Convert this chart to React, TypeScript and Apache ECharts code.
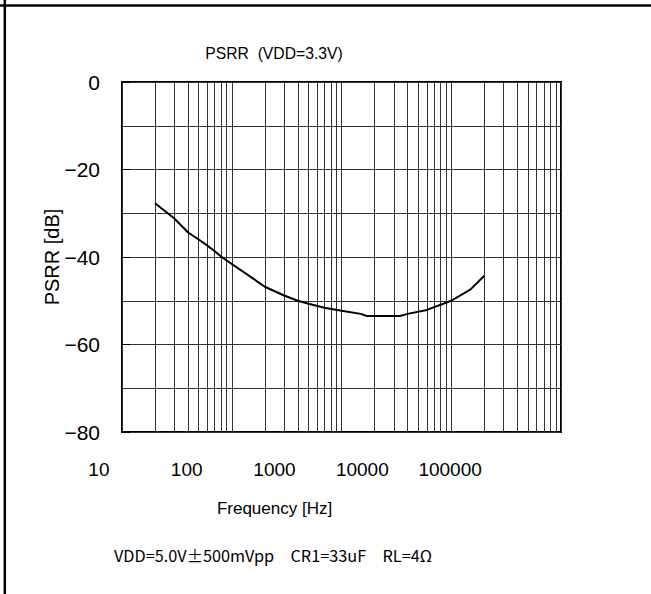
import { useEffect, useRef } from "react";
import * as echarts from "echarts";

const TITLE = "PSRR  (VDD=3.3V)";
const X_NAME = "Frequency [Hz]";
const Y_NAME = "PSRR [dB]";
const CONDITIONS = "VDD=5.0V\u00b1500mVpp\u3000CR1=33uF\u3000RL=4\u03a9";

const freqHz = [20, 30, 40, 50, 60, 70, 80, 100, 150, 200, 300, 400, 500, 700, 1000, 1500, 1700, 2000, 3000, 3400, 4000, 6000, 10000, 15000, 20000];
const psrrDb = [-27.7, -31.2, -34.4, -36.0, -37.4, -38.7, -39.9, -41.6, -44.6, -46.8, -48.8, -50.0, -50.7, -51.6, -52.3, -53.0, -53.5, -53.5, -53.5, -53.5, -53.0, -52.1, -50.0, -47.4, -44.3];

const xTickLabels = ["10", "100", "1000", "10000", "100000"];
const minorFreqs = [
  20, 30, 40, 50, 60, 70, 80, 90,
  200, 300, 400, 500, 600, 700, 800, 900,
  2000, 3000, 4000, 5000, 6000, 7000, 8000, 9000,
  20000, 30000, 40000, 50000, 60000, 70000, 80000, 90000,
];

const SANS = "'Liberation Sans', Arial, sans-serif";

export default function App() {
  const ref = useRef<HTMLDivElement>(null);
  useEffect(() => {
    if (!ref.current) return;
    const chart = echarts.init(ref.current, null, { renderer: "svg" });
    const gridColor = "#333";
    chart.setOption({
      animation: false,
      backgroundColor: "#fff",
      grid: [
        { left: 122, top: 82, width: 439, height: 350, show: true, borderColor: "#000", borderWidth: 2, backgroundColor: "transparent" },
        { left: 55, top: 82, width: 439, height: 350, show: false },
      ],
      xAxis: [
        {
          type: "log",
          gridIndex: 0,
          logBase: 10,
          min: 10,
          max: 100000,
          axisLine: { show: false },
          axisTick: { show: false },
          axisLabel: { show: false },
          splitLine: { show: true, lineStyle: { color: gridColor, width: 1 } },
        },
        {
          type: "category",
          gridIndex: 1,
          data: xTickLabels,
          boundaryGap: true,
          axisLine: { show: false },
          axisTick: { show: false },
          axisLabel: { interval: 0, margin: 28, fontFamily: SANS, fontSize: 19, color: "#000" },
          name: X_NAME,
          nameLocation: "middle",
          nameGap: 68,
          nameMoveOverlap: false,
          nameTextStyle: { fontFamily: SANS, fontSize: 17, color: "#000" },
        },
      ],
      yAxis: [
        {
          type: "value",
          gridIndex: 0,
          min: -80,
          max: 0,
          interval: 20,
          axisLine: { show: false },
          axisTick: { show: true, inside: true, length: 8, lineStyle: { color: "#000", width: 1 } },
          axisLabel: {
            margin: 22,
            fontFamily: SANS,
            fontSize: 21,
            color: "#000",
            formatter: (v: number) => (v === 0 ? "0" : "\u2212" + Math.abs(v)),
          },
          splitLine: { show: true, lineStyle: { color: gridColor, width: 1 } },
          minorTick: { show: false, splitNumber: 2 },
          minorSplitLine: { show: true, lineStyle: { color: gridColor, width: 1 } },
          name: Y_NAME,
          nameLocation: "middle",
          nameGap: 60,
          nameRotate: 90,
          nameMoveOverlap: false,
          nameTextStyle: { fontFamily: SANS, fontSize: 20, color: "#000" },
        },
        { type: "value", gridIndex: 1, show: false, min: -80, max: 0 },
      ],
      series: [
        {
          type: "line",
          xAxisIndex: 0,
          yAxisIndex: 0,
          data: freqHz.map((f, i) => [f, psrrDb[i]]),
          showSymbol: false,
          smooth: false,
          lineStyle: { color: "#000", width: 2 },
          z: 5,
          markLine: {
            silent: true,
            symbol: "none",
            label: { show: false },
            lineStyle: { color: gridColor, width: 1, type: "solid" },
            data: minorFreqs.map((f) => ({ xAxis: f })),
            z: 1,
          },
        },
      ],
      graphic: [
        { type: "line", shape: { x1: 0, y1: 5.5, x2: 651, y2: 5.5 }, style: { stroke: "#000", lineWidth: 2.5 } },
        { type: "line", shape: { x1: 4.8, y1: 0, x2: 4.8, y2: 594 }, style: { stroke: "#000", lineWidth: 2.5 } },
        {
          type: "text",
          x: 274,
          y: 53,
          style: { text: TITLE, fontFamily: SANS, fontSize: 15.7, fill: "#000", textAlign: "center", textVerticalAlign: "middle" },
        },
        {
          type: "text",
          x: 273,
          y: 555,
          style: { text: CONDITIONS, fontFamily: "'Noto Sans CJK JP', sans-serif", fontSize: 16.3, fill: "#000", textAlign: "center", textVerticalAlign: "middle" },
        },
      ],
    });
    return () => chart.dispose();
  }, []);
  return <div ref={ref} style={{ position: "fixed", left: 0, top: 0, width: 651, height: 594 }} />;
}
